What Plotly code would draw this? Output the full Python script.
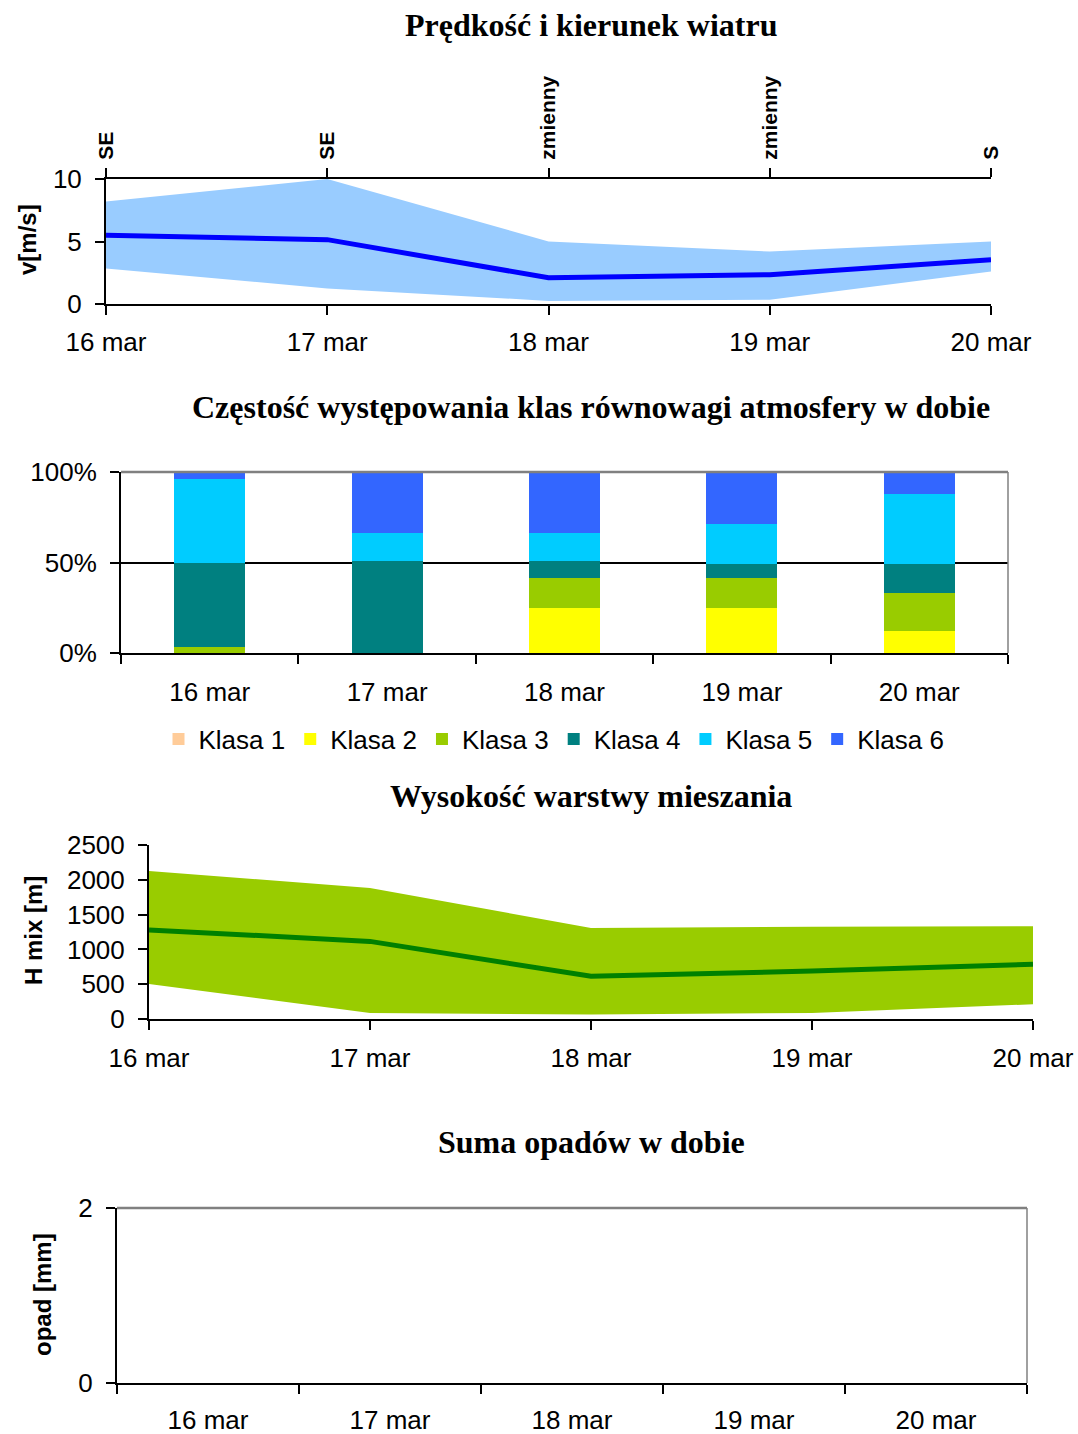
import plotly.graph_objects as go

W, H = 1078, 1434

dates = ["16 mar", "17 mar", "18 mar", "19 mar", "20 mar"]
wind_dir = ["SE", "SE", "zmienny", "zmienny", "S"]
wind_mean = [5.5, 5.15, 2.1, 2.35, 3.55]
wind_max = [8.2, 10.0, 5.0, 4.2, 5.0]
wind_min = [2.85, 1.25, 0.25, 0.35, 2.6]

klasa_names = ["Klasa 1", "Klasa 2", "Klasa 3", "Klasa 4", "Klasa 5", "Klasa 6"]
klasa1 = [0, 0, 0, 0, 0]
klasa2 = [0, 0, 25.0, 25.0, 12.2]
klasa3 = [3.5, 0, 16.7, 16.7, 21.2]
klasa4 = [46.0, 51.0, 8.9, 7.7, 16.0]
klasa5 = [46.5, 15.5, 15.6, 21.8, 38.5]
klasa6 = [4.0, 33.5, 33.8, 29.5, 12.1]
klasa_colors = ["#FFCC99", "#FFFF00", "#99CC00", "#008080", "#00CCFF", "#3366FF"]
pct_ticks = [0, 50, 100]
pct_labels = ["0%", "50%", "100%"]

hmix_mean = [1280, 1115, 613, 690, 787]
hmix_max = [2128, 1882, 1308, 1327, 1332]
hmix_min = [502, 87, 63, 87, 212]

opad = [0, 0, 0, 0, 0]

idx = list(range(len(dates)))


def xd(a, b):
    return [a / W, b / W]


def yd(top, bottom):
    return [1 - bottom / H, 1 - top / H]


TICKF = dict(family="Liberation Sans, Arial", size=26, color="black")
BOLDF = dict(family="Liberation Sans, Arial", size=24, color="black", weight="bold")
TITLEF = dict(family="Liberation Serif, Times New Roman", size=32, color="black", weight="bold")

fig = go.Figure()

# ---- Chart 1: wind
fig.add_trace(go.Scatter(x=idx, y=wind_max, mode="lines", line=dict(width=0, color="#99CCFF"),
                         showlegend=False, xaxis="x", yaxis="y", hoverinfo="skip"))
fig.add_trace(go.Scatter(x=idx, y=wind_min, mode="lines", line=dict(width=0, color="#99CCFF"),
                         fill="tonexty", fillcolor="#99CCFF", showlegend=False, xaxis="x", yaxis="y"))
fig.add_trace(go.Scatter(x=idx, y=wind_mean, mode="lines", line=dict(width=5, color="#0000FF"),
                         showlegend=False, xaxis="x", yaxis="y"))
# invisible trace for top axis
fig.add_trace(go.Scatter(x=idx, y=wind_mean, mode="lines", line=dict(width=0), opacity=0,
                         showlegend=False, xaxis="x5", yaxis="y", hoverinfo="skip"))

# ---- Chart 2: stability classes
for name, vals, col in zip(klasa_names, [klasa1, klasa2, klasa3, klasa4, klasa5, klasa6], klasa_colors):
    fig.add_trace(go.Bar(x=dates, y=vals, name=name, marker=dict(color=col, line=dict(width=0)),
                         width=0.4, xaxis="x2", yaxis="y2"))

# ---- Chart 3: mixing height
fig.add_trace(go.Scatter(x=idx, y=hmix_max, mode="lines", line=dict(width=0, color="#99CC00"),
                         showlegend=False, xaxis="x3", yaxis="y3", hoverinfo="skip"))
fig.add_trace(go.Scatter(x=idx, y=hmix_min, mode="lines", line=dict(width=0, color="#99CC00"),
                         fill="tonexty", fillcolor="#99CC00", showlegend=False, xaxis="x3", yaxis="y3"))
fig.add_trace(go.Scatter(x=idx, y=hmix_mean, mode="lines", line=dict(width=5, color="#008000"),
                         showlegend=False, xaxis="x3", yaxis="y3"))

# ---- Chart 4: precipitation
fig.add_trace(go.Bar(x=dates, y=opad, marker=dict(color="#3366FF"), showlegend=False,
                     xaxis="x4", yaxis="y4"))

common_x = dict(showgrid=False, zeroline=False, showline=True, linecolor="black", linewidth=2,
                ticks="outside", ticklen=9, tickcolor="black", tickwidth=1.5, tickfont=TICKF,
                automargin=False, fixedrange=True)
common_y = dict(showgrid=False, zeroline=False, showline=True, linecolor="black", linewidth=2,
                ticks="outside", ticklen=9, tickcolor="black", tickwidth=1.5, tickfont=TICKF,
                automargin=False, fixedrange=True)

fig.update_layout(
    width=W, height=H, template="none",
    margin=dict(l=0, r=0, t=0, b=0, pad=0),
    paper_bgcolor="white", plot_bgcolor="rgba(0,0,0,0)",
    barmode="stack", bargap=0.6,
    xaxis=dict(common_x, domain=xd(106, 991), range=[0, 4], tickvals=idx, ticktext=dates,
               anchor="y", ticklabelstandoff=5),
    xaxis5=dict(common_x, domain=xd(106, 991), range=[0, 4], tickvals=idx, ticktext=wind_dir,
                overlaying="x", side="top", anchor="y", tickangle=-90, ticklabelstandoff=4,
                tickfont=dict(family="Liberation Sans, Arial", size=21, color="black", weight="bold")),
    yaxis=dict(common_y, domain=yd(179, 304), range=[0, 10], tickvals=[0, 5, 10], anchor="x",
               ticklabelstandoff=8),
    xaxis2=dict(common_x, domain=xd(121, 1008), type="category", range=[-0.5, 4.5],
                tickson="boundaries", anchor="y2", ticklabelstandoff=15),
    yaxis2=dict(common_y, domain=yd(472, 653), range=[0, 100], tickvals=pct_ticks,
                ticktext=pct_labels, anchor="x2", showgrid=True, gridcolor="black", gridwidth=1.5,
                ticklabelstandoff=8),
    xaxis3=dict(common_x, domain=xd(149, 1033), range=[0, 4], tickvals=idx, ticktext=dates,
                anchor="y3", ticklabelstandoff=6),
    yaxis3=dict(common_y, domain=yd(845, 1019), range=[0, 2500], tickvals=[0, 500, 1000, 1500, 2000, 2500],
                anchor="x3", ticklabelstandoff=8),
    xaxis4=dict(common_x, domain=xd(117, 1027), type="category", range=[-0.5, 4.5],
                tickson="boundaries", anchor="y4", ticklabelstandoff=13),
    yaxis4=dict(common_y, domain=yd(1208, 1383), range=[0, 2], tickvals=[0, 2], anchor="x4",
                ticklabelstandoff=8),
    legend=dict(orientation="h", x=554 / W, y=1 - 739 / H, xanchor="center", yanchor="middle",
                font=TICKF, traceorder="normal", bgcolor="rgba(0,0,0,0)"),
    showlegend=True,
)

# borders (gray top/right) for charts 2 and 4
for xa, ya in [("x2", "y2"), ("x4", "y4")]:
    fig.add_shape(type="line", xref=f"{xa} domain", yref=f"{ya} domain", x0=0, x1=1, y0=1, y1=1,
                  line=dict(color="#808080", width=2.5), layer="above")
    fig.add_shape(type="line", xref=f"{xa} domain", yref=f"{ya} domain", x0=1, x1=1, y0=0, y1=1,
                  line=dict(color="#808080", width=1.5), layer="above")

# titles
titles = [("Prędkość i kierunek wiatru", 25),
          ("Częstość występowania klas równowagi atmosfery w dobie", 407),
          ("Wysokość warstwy mieszania", 796),
          ("Suma opadów w dobie", 1142)]
for txt, py in titles:
    fig.add_annotation(text=txt, x=591 / W, y=1 - py / H, xref="paper", yref="paper",
                       showarrow=False, xanchor="center", yanchor="middle", font=TITLEF)

# y-axis titles
ytitles = [("v[m/s]", 27, 240), ("H mix [m]", 33, 931), ("opad [mm]", 42, 1295)]
for txt, px, py in ytitles:
    fig.add_annotation(text=txt, x=px / W, y=1 - py / H, xref="paper", yref="paper",
                       showarrow=False, xanchor="center", yanchor="middle", textangle=-90, font=BOLDF)

fig.write_html("out.html", config={"displayModeBar": False},
               post_script="document.body.style.margin='0';document.body.style.overflow='hidden';")
